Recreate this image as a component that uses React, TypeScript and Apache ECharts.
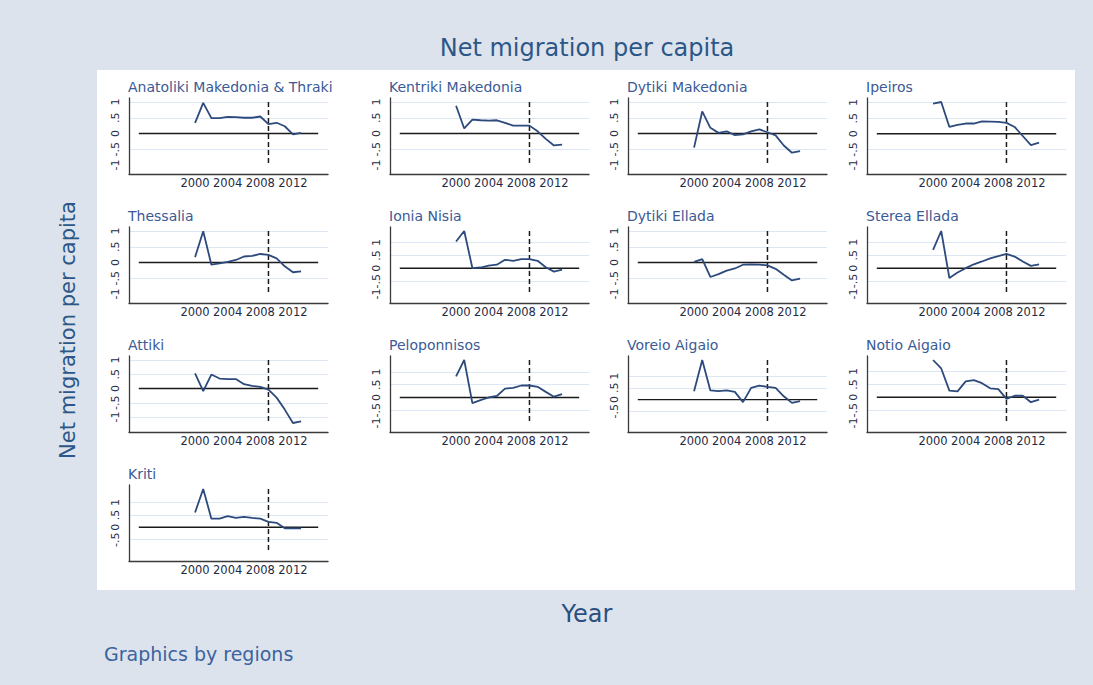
import React, { useEffect, useRef } from "react";
import * as echarts from "echarts";

const years = [2000, 2001, 2002, 2003, 2004, 2005, 2006, 2007, 2008, 2009, 2010, 2011, 2012, 2013];

const regionNames = [
  "Anatoliki Makedonia & Thraki", "Kentriki Makedonia", "Dytiki Makedonia", "Ipeiros",
  "Thessalia", "Ionia Nisia", "Dytiki Ellada", "Sterea Ellada",
  "Attiki", "Peloponnisos", "Voreio Aigaio", "Notio Aigaio",
  "Kriti",
];

const anatoliki = [0.34, 0.97, 0.49, 0.49, 0.53, 0.52, 0.5, 0.5, 0.54, 0.3, 0.34, 0.23, -0.03, 0.02];
const kentriki = [0.88, 0.16, 0.44, 0.42, 0.41, 0.42, 0.34, 0.25, 0.25, 0.25, 0.07, -0.17, -0.38, -0.35];
const dytikiMakedonia = [-0.45, 0.7, 0.18, 0.02, 0.07, -0.05, -0.03, 0.07, 0.13, 0.04, -0.06, -0.38, -0.61, -0.56];
const ipeiros = [0.97, 1.02, 0.22, 0.29, 0.33, 0.33, 0.4, 0.39, 0.38, 0.35, 0.22, -0.07, -0.36, -0.28];
const thessalia = [0.17, 0.99, -0.07, -0.03, 0.02, 0.08, 0.19, 0.21, 0.27, 0.24, 0.13, -0.12, -0.31, -0.28];
const ioniaNisia = [1.04, 1.45, 0.01, 0.03, 0.1, 0.14, 0.33, 0.29, 0.36, 0.36, 0.29, 0.04, -0.13, -0.05];
const dytikiEllada = [0.02, 0.11, -0.46, -0.37, -0.26, -0.19, -0.07, -0.06, -0.07, -0.09, -0.2, -0.39, -0.57, -0.51];
const stereaEllada = [0.71, 1.44, -0.38, -0.17, 0.0, 0.15, 0.26, 0.38, 0.47, 0.55, 0.45, 0.26, 0.09, 0.15];
const attiki = [0.53, -0.09, 0.49, 0.35, 0.33, 0.33, 0.15, 0.09, 0.06, -0.04, -0.32, -0.74, -1.21, -1.15];
const peloponnisos = [0.83, 1.47, -0.22, -0.1, 0.0, 0.06, 0.35, 0.38, 0.47, 0.47, 0.42, 0.22, 0.03, 0.13];
const voreioAigaio = [0.36, 1.69, 0.39, 0.36, 0.39, 0.33, -0.11, 0.5, 0.6, 0.54, 0.5, 0.14, -0.14, -0.07];
const notioAigaio = [1.45, 1.12, 0.26, 0.23, 0.62, 0.67, 0.55, 0.35, 0.32, -0.06, 0.06, 0.06, -0.19, -0.09];
const kriti = [0.6, 1.55, 0.35, 0.35, 0.45, 0.38, 0.42, 0.38, 0.35, 0.22, 0.18, -0.04, -0.04, -0.04];

const regionValues = [
  anatoliki, kentriki, dytikiMakedonia, ipeiros,
  thessalia, ioniaNisia, dytikiEllada, stereaEllada,
  attiki, peloponnisos, voreioAigaio, notioAigaio,
  kriti,
];

const yTickValues = [-1, -0.5, 0, 0.5, 1];
const xTickYears = [2000, 2004, 2008, 2012];
const crisisYear = 2009;
const xRangeInner = [1993.1, 2015.1];

const mainTitle = "Net migration per capita";
const yTitle = "Net migration per capita";
const xTitle = "Year";
const noteText = "Graphics by regions";

// layout (pixels)
const colLeft = [129, 390, 628, 867];
const rowTop = [102, 231, 360, 489];
const innerH = 63;
const padTop = 4;
const padBottom = 9;
const gridW = 199;
const xMinOuter = 1991.9;
const xMaxOuter = 2016.3;

const FONT = "DejaVu Sans";
const lineColor = "#2d4a7c";
const labelColor = "#1f2a44";

function fmtTick(v: number): string {
  return String(v).replace("0.", ".");
}

function buildOption() {
  const grid: any[] = [];
  const xAxis: any[] = [];
  const yAxis: any[] = [];
  const series: any[] = [];
  const graphic: any[] = [];

  graphic.push({
    type: "rect",
    z: -10,
    shape: { x: 97, y: 70, width: 978, height: 520 },
    style: { fill: "#ffffff" },
    silent: true,
  });

  regionNames.forEach((name, i) => {
    const r = Math.floor(i / 4);
    const c = i % 4;
    const L = colLeft[c];
    const T = rowTop[r];
    const vals = regionValues[i];
    const ymax = Math.max(1, ...vals);
    const ymin = Math.min(-1, ...vals);
    const range = ymax - ymin;
    const axMin = ymin - (padBottom / innerH) * range;
    const axMax = ymax + (padTop / innerH) * range;

    grid.push({ left: L, top: T - padTop, width: gridW, height: innerH + padTop + padBottom });
    xAxis.push({
      type: "value",
      gridIndex: i,
      min: xMinOuter,
      max: xMaxOuter,
      splitLine: { show: false },
      axisTick: { show: false },
      axisLine: { show: true, onZero: false, lineStyle: { color: "#3a3a3a", width: 1.3 } },
      axisLabel: {
        customValues: xTickYears,
        color: labelColor,
        fontFamily: FONT,
        fontSize: 11.5,
        margin: 3,
        formatter: (v: number) => String(v),
      },
    });
    yAxis.push({
      type: "value",
      gridIndex: i,
      min: axMin,
      max: axMax,
      splitLine: { show: false },
      axisTick: { show: false },
      axisLine: { show: true, onZero: false, lineStyle: { color: "#3a3a3a", width: 1.3 } },
      axisLabel: {
        customValues: yTickValues,
        rotate: 90,
        color: labelColor,
        fontFamily: FONT,
        fontSize: 11,
        margin: 8,
        formatter: (v: number) => fmtTick(v),
      },
    });

    const gridVals = yTickValues.filter((v) => v !== 0 && v > ymin + 1e-6);

    series.push({
      type: "line",
      xAxisIndex: i,
      yAxisIndex: i,
      data: [[xRangeInner[0], 0], [xRangeInner[1], 0]],
      showSymbol: false,
      silent: true,
      z: 1,
      lineStyle: { color: "#1a1a1a", width: 1.4 },
      markLine: {
        silent: true,
        symbol: ["none", "none"],
        label: { show: false },
        lineStyle: { color: "#dde6f3", width: 1, type: "solid" },
        data: gridVals.map((v) => ({ yAxis: v })),
        z: 0,
      },
    });
    series.push({
      type: "line",
      xAxisIndex: i,
      yAxisIndex: i,
      data: [[crisisYear, ymax], [crisisYear, ymin]],
      showSymbol: false,
      silent: true,
      z: 2,
      lineStyle: { color: "#1a1a1a", width: 1.5, type: [5, 3] },
    });
    series.push({
      type: "line",
      name,
      xAxisIndex: i,
      yAxisIndex: i,
      data: years.map((y, k) => [y, vals[k]]),
      showSymbol: false,
      z: 3,
      lineStyle: { color: lineColor, width: 1.8 },
    });

    graphic.push({
      type: "text",
      x: L - 1,
      y: T - 15,
      style: {
        text: name,
        fill: "#3b5a96",
        font: `14px "${FONT}"`,
        textAlign: "left",
        textVerticalAlign: "middle",
      },
    });
  });

  graphic.push({
    type: "text",
    x: 587,
    y: 48,
    style: { text: mainTitle, fill: "#2b5788", font: `24px "${FONT}"`, textAlign: "center", textVerticalAlign: "middle" },
  });
  graphic.push({
    type: "text",
    x: 68,
    y: 330,
    rotation: Math.PI / 2,
    style: { text: yTitle, fill: "#2b5788", font: `21px "${FONT}"`, textAlign: "center", textVerticalAlign: "middle" },
  });
  graphic.push({
    type: "text",
    x: 587,
    y: 614,
    style: { text: xTitle, fill: "#2b4f7e", font: `24px "${FONT}"`, textAlign: "center", textVerticalAlign: "middle" },
  });
  graphic.push({
    type: "text",
    x: 104,
    y: 654,
    style: { text: noteText, fill: "#3a64a0", font: `19px "${FONT}"`, textAlign: "left", textVerticalAlign: "middle" },
  });

  return {
    animation: false,
    backgroundColor: "#dde3ec",
    grid,
    xAxis,
    yAxis,
    series,
    graphic,
  };
}

export default function App() {
  const ref = useRef<HTMLDivElement>(null);
  useEffect(() => {
    document.body.style.margin = "0";
    if (!ref.current) return;
    const chart = echarts.init(ref.current, undefined, { renderer: "svg" });
    chart.setOption(buildOption() as any);
    return () => chart.dispose();
  }, []);
  return <div ref={ref} style={{ width: 1093, height: 685 }} />;
}
